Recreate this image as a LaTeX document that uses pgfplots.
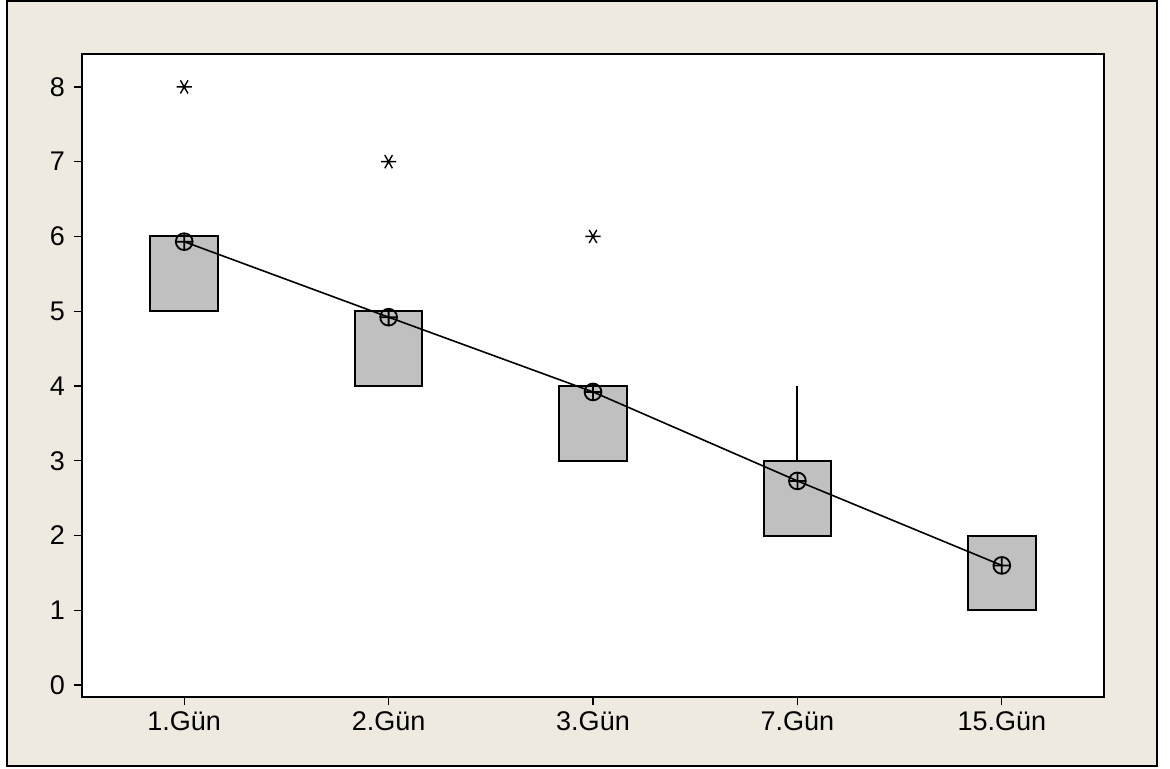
\documentclass[border=0pt]{standalone}
\usepackage{fontspec}
\setmainfont{Liberation Sans}
\usepackage{pgfplots}
\pgfplotsset{compat=1.18}
\usepgfplotslibrary{statistics}
\definecolor{beige}{HTML}{EEEAE0}
\definecolor{boxgray}{HTML}{C0C0C0}
\begin{document}
\begin{tikzpicture}
\useasboundingbox (0,0) rectangle (585pt,384.5pt);
\fill[white] (0,0) rectangle (585pt,384.5pt);
\filldraw[fill=beige, draw=black, line width=0.9pt] (3.5pt,1.5pt) rectangle (578.5pt,384pt);
\begin{axis}[
  at={(41pt,36pt)}, anchor=south west,
  scale only axis, width=511pt, height=321.5pt,
  xmin=-0.5, xmax=4.5, ymin=-0.16, ymax=8.44,
  axis background/.style={fill=white},
  axis line style={line width=0.9pt},
  xtick={0,1,2,3,4},
  xticklabels={1.Gün,2.Gün,3.Gün,7.Gün,15.Gün},
  ytick={0,1,2,3,4,5,6,7,8},
  tick align=outside, tick pos=left,
  major tick length=4pt,
  tick style={black, line width=0.6pt},
  /pgf/number format/assume math mode=true,
  ticklabel style={font=\fontsize{13.5}{16}\selectfont},
  yticklabel style={xshift=-1pt},
  boxplot/draw direction=y,
  boxplot/box extend=0.33,
  boxplot/whisker extend=0,
  bx/.style={draw=black, fill=boxgray, line width=1pt, solid, mark=asterisk, mark size=3.8pt, mark options={black, line width=0.7pt, rotate=90}},
]
\addplot+[boxplot prepared={draw position=0, lower whisker=5, lower quartile=5, median=6, upper quartile=6, upper whisker=6}, bx]
  table[row sep=\\, y index=0] {8\\};
\addplot+[boxplot prepared={draw position=1, lower whisker=4, lower quartile=4, median=5, upper quartile=5, upper whisker=5}, bx]
  table[row sep=\\, y index=0] {7\\};
\addplot+[boxplot prepared={draw position=2, lower whisker=3, lower quartile=3, median=4, upper quartile=4, upper whisker=4}, bx]
  table[row sep=\\, y index=0] {6\\};
\addplot+[boxplot prepared={draw position=3, lower whisker=2, lower quartile=2, median=3, upper quartile=3, upper whisker=4}, bx, mark=none]
  coordinates {};
\addplot+[boxplot prepared={draw position=4, lower whisker=1, lower quartile=1, median=2, upper quartile=2, upper whisker=2}, bx, mark=none]
  coordinates {};
\addplot[black, line width=0.8pt, mark=oplus, mark size=4.2pt, mark options={line width=0.9pt}]
  coordinates {(0,5.93) (1,4.92) (2,3.92) (3,2.73) (4,1.60)};
\end{axis}
\end{tikzpicture}
\end{document}
